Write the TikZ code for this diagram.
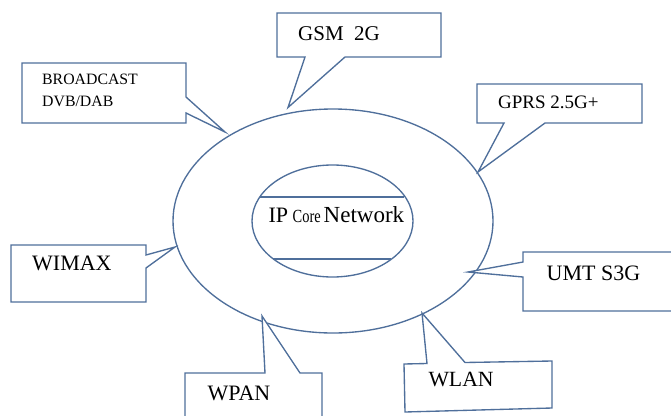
\documentclass[tikz,border=0pt]{standalone}
\usepackage{fontspec}
\setmainfont{Liberation Serif}
\usetikzlibrary{shapes.geometric}
\definecolor{lineblue}{RGB}{79,111,155}
\begin{document}
\begin{tikzpicture}[x=1pt,y=-1pt,
  bubble/.style={draw=lineblue, line width=1.35pt, line join=miter, fill=white},
  ring/.style={draw=lineblue, line width=1.35pt, ellipse, inner sep=0pt},
  chord/.style={draw=lineblue, line width=1.35pt},
  lbl/.style={anchor=base west, inner sep=0pt, text=black},
  big/.style={font=\fontsize{22}{24}\selectfont}]
\useasboundingbox (0,0) rectangle (671,415);
\clip (0,0) rectangle (671,415);

% rings
\node[ring, minimum width=320pt, minimum height=224pt] (outer) at (333,221) {};
\node[ring, minimum width=161pt, minimum height=112pt] (inner) at (332.5,221) {};
\draw[chord] (260,197) -- (404,197);
\draw[chord] (273,259) -- (391,259);

% callout tips
\coordinate (tipBC) at (225,132);
\coordinate (tipGSM) at (288,107.5);
\coordinate (tipGPRS) at (478,172);
\coordinate (tipUMTS) at (468,272);
\coordinate (tipWLAN) at (422,313);
\coordinate (tipWPAN) at (262,316);
\coordinate (tipWIMAX) at (175,247);

% callouts
\draw[bubble] (22,63) -- (186,63) -- (186,97) -- (tipBC) -- (186,113) -- (186,123) -- (22,123) -- cycle;
\draw[bubble] (277,13) -- (441,13) -- (441,57) -- (345,57) -- (tipGSM) -- (305,57) -- (277,57) -- cycle;
\draw[bubble] (477,84) -- (642,84) -- (642,123) -- (545,123) -- (tipGPRS) -- (504,123) -- (477,123) -- cycle;
\draw[bubble] (523,252) -- (690,252) -- (690,311) -- (523,311) -- (523,277) -- (tipUMTS) -- (523,262) -- cycle;
\draw[bubble] (404,364) -- (427,363.5) -- (tipWLAN) -- (465,362.5) -- (552,361) -- (552,408) -- (405,412) -- cycle;
\draw[bubble] (185,373) -- (265,373) -- (tipWPAN) -- (300,373) -- (322,373) -- (322,430) -- (185,430) -- cycle;
\draw[bubble] (11,245) -- (146,245) -- (146,255) -- (tipWIMAX) -- (146,268) -- (146,302) -- (11,302) -- cycle;

% labels
\node[lbl, font=\fontsize{21}{23}\selectfont] (gsm) at (298,40.5) {GSM\ \ 2G};
\node[lbl, font=\fontsize{15.8}{18}\selectfont] (bc1) at (42,84) {BROADCAST};
\node[lbl, font=\fontsize{15.8}{18}\selectfont] (bc2) at (42,106) {DVB/DAB};
\node[lbl, font=\fontsize{19}{21}\selectfont] (gprs) at (498,108.3) {GPRS 2.5G+};
\node[lbl, big] (wimax) at (32,270.5) {WIMAX};
\node[lbl, big] (umts) at (546.5,280) {UMT S3G};
\node[lbl, font=\fontsize{21.7}{24}\selectfont] (wlan) at (428.3,386) {WLAN};
\node[lbl, big] (wpan) at (207.3,400.5) {WPAN};
\node[lbl] (ipcore) at (268.3,222.5) {\fontsize{22}{24}\selectfont IP\hspace{4.6pt}\fontsize{18.5}{20}\selectfont\scalebox{0.78}[1]{Core}\hspace{3pt}\fontsize{23}{25}\selectfont Network};
\end{tikzpicture}
\end{document}
